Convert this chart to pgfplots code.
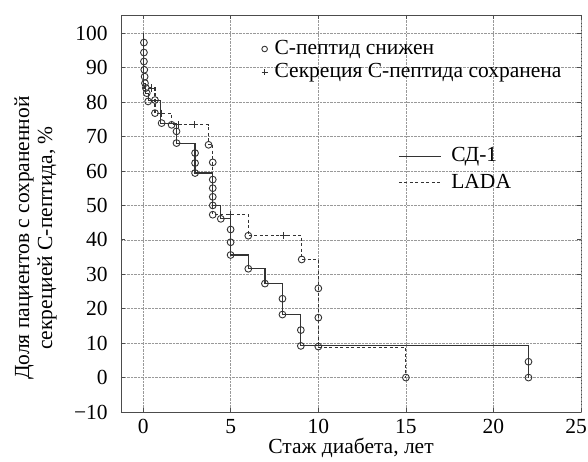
\documentclass[border=0pt]{standalone}
\usepackage{fontspec}
\setmainfont{Liberation Serif}
\usepackage{pgfplots}
\pgfplotsset{compat=1.18}
\definecolor{ln}{HTML}{333333}
\newcommand{\fs}{\fontsize{21.5}{23}\selectfont}
\pgfplotsset{
 markleg/.style={legend image code/.code={\draw[##1, mark size=2.8pt] plot coordinates {(4pt,0pt)};}},
 plusleg/.style={legend image code/.code={\draw[##1, mark size=3pt] plot coordinates {(4pt,0pt)};}},
 lineleg/.style={legend image code/.code={\draw[##1] (0pt,0pt) -- (42pt,0pt);}},
}
\begin{document}
\fs
\begin{tikzpicture}
\begin{axis}[
 scale only axis, width=460pt, height=397pt,
 xmin=-1.27, xmax=25, ymin=-10, ymax=105.3,
 xtick={0,5,10,15,20}, xticklabels={0,5,10,15,20},
 extra x ticks={25}, extra x tick labels={25},
 extra x tick style={xticklabel style={xshift=-5pt}},
 ytick={-10,0,10,20,30,40,50,60,70,80,90,100},
 yticklabels={−10,0,10,20,30,40,50,60,70,80,90,100},
 grid=major, grid style={densely dotted, black!40, line width=0.6pt},
 axis line style={black!70, line width=0.9pt},
 tick style={black!70, line width=0.8pt}, major tick length=4pt,
 tick align=inside,
 ticklabel style={font=\fs},
 yticklabel style={xshift=-6pt},
 xlabel={Стаж диабета, лет},
 xlabel style={font=\fs, at={(axis description cs:0.5,0)}, anchor=center, yshift=-36pt},
 ylabel={Доля пациентов с сохраненной\\секрецией С-пептида, \%},
 ylabel style={font=\fs, align=center, at={(axis description cs:-0.186,0.438)}, anchor=center},
 legend style={draw=none, fill=none, at={(axis cs:6.75,98.6)}, anchor=north west,
   font=\fs, row sep=2pt, column sep=5pt, inner sep=0pt},
 legend cell align=left,
]
% СД-1 (solid)
\addplot[ln, line width=1.15pt, forget plot] coordinates {
(0,100)(0,85.5)(0.15,85.5)(0.15,82.6)(0.28,82.6)(0.28,80.4)(0.97,80.4)(0.97,73.9)
(1.9,73.9)(1.9,68.1)(2.96,68.1)(2.96,59.4)(3.95,59.4)(3.95,50)(4.43,50)(4.43,46.1)
(4.99,46.1)(4.99,35.6)(6.0,35.6)(6.0,31.6)(6.95,31.6)(6.95,27.3)(7.95,27.3)(7.95,18.3)
(9.0,18.3)(9.0,9.2)(22,9.2)(22,0)};
% LADA (dashed)
\addplot[ln, line width=1.1pt, dash pattern=on 3pt off 2.5pt, forget plot] coordinates {
(0,100)(0,84.1)(0.67,84.1)(0.67,76.8)(1.6,76.8)(1.6,73.4)(3.73,73.4)(3.73,67.6)
(3.97,67.6)(3.97,47.3)(6.0,47.3)(6.0,41.2)(9.05,41.2)(9.05,34.3)(10,34.3)(10,8.7)
(15,8.7)(15,0)};
% events: C-peptide decreased
\addplot[only marks, mark=o, mark size=3.4pt, draw=ln, line width=0.9pt,
 mark options={fill=white}, markleg]
 coordinates {
(0.04,97.3)(0.04,94.4)(0.04,91.8)(0.06,89.4)(0.08,87.4)(0.1,85.5)(0.15,84.1)(0.2,82.6)(0.28,80.2)
(0.67,80.6)(0.67,76.8)(1.05,73.9)(1.62,73.4)(1.9,71.5)(1.9,68.1)
(2.96,65.2)(2.96,62.3)(2.96,59.4)(3.73,67.6)
(3.97,62.5)(3.97,57.5)(3.97,55)(3.97,52.5)(3.97,50)(3.97,47.3)
(4.43,46.1)(4.99,43)(4.99,39.3)(4.99,35.6)(6,41.2)(6,31.6)(6.95,27.3)
(7.95,22.9)(7.95,18.3)(9.0,13.8)(9.0,9.2)(9.05,34.3)
(10,25.9)(10,17.4)(10,9.0)(15,0)(22,4.6)(22,0)};
\addlegendentry{С-пептид снижен}
% censored: secretion preserved
\addplot[only marks, mark=+, mark size=3.6pt, draw=ln, line width=0.9pt, plusleg]
 coordinates {(0.45,84.1)(1.05,76.8)(2.0,73.4)(2.9,73.4)(5.0,47.3)(8.0,41.2)};
\addlegendentry{Секреция С-пептида сохранена}
\end{axis}
\begin{axis}[
 scale only axis, width=460pt, height=397pt,
 xmin=-1.27, xmax=25, ymin=-10, ymax=105.3, hide axis,
 legend style={draw=none, fill=none, at={(axis cs:14.55,67.4)}, anchor=north west,
   font=\fs, row sep=5pt, column sep=8pt, inner sep=0pt},
 legend cell align=left,
]
\addlegendimage{ln, line width=1.1pt, lineleg}
\addlegendentry{СД-1}
\addlegendimage{ln, line width=1.1pt, dash pattern=on 3pt off 2.5pt, lineleg}
\addlegendentry{LADA}
\end{axis}
\pgfresetboundingbox
\path (-121pt,-49pt) rectangle (467pt,412pt);
\end{tikzpicture}
\end{document}
